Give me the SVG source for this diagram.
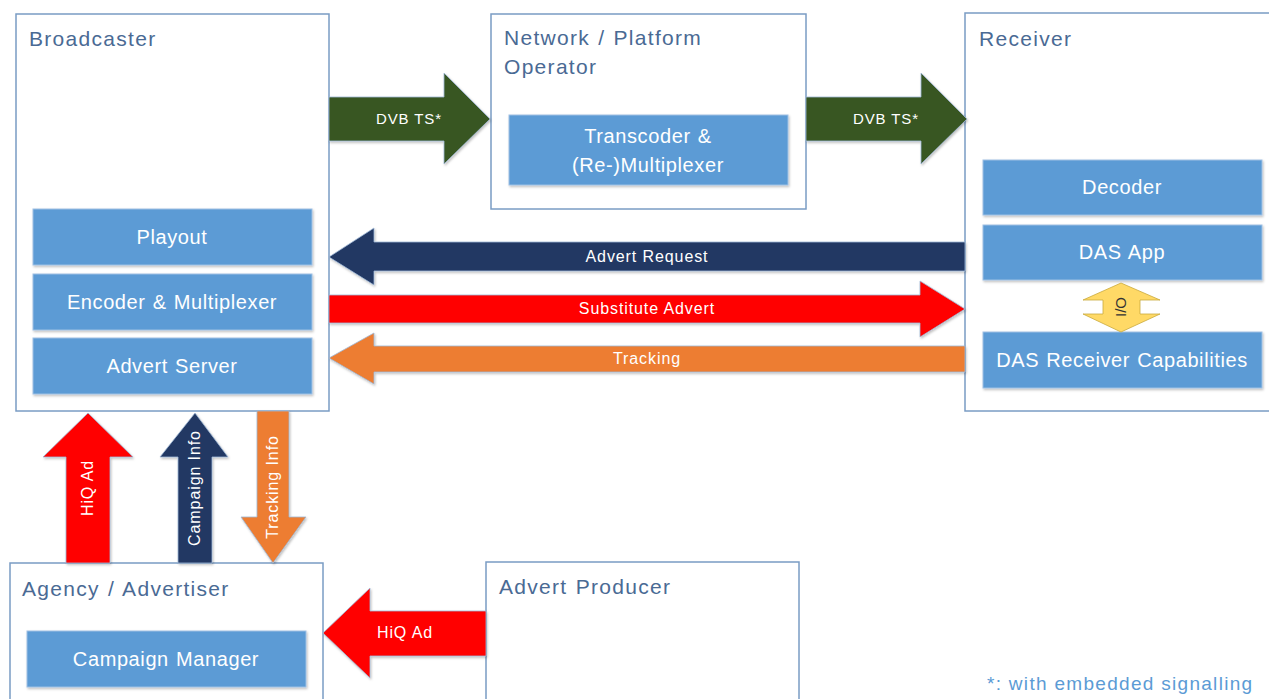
<svg xmlns="http://www.w3.org/2000/svg" width="1269" height="699" viewBox="0 0 1269 699">
<defs>
<filter id="sh" x="-5%" y="-10%" width="110%" height="130%"><feDropShadow dx="1" dy="1.5" stdDeviation="1.2" flood-color="#000" flood-opacity="0.25"/></filter>
</defs>
<style>
.outer{fill:#fff;stroke:#7a9cc4;stroke-width:1.5}
.title{font-family:"Liberation Sans",Arial,sans-serif;font-size:21px;letter-spacing:1.3px;word-spacing:1px;fill:#4a6a94}
.inner{fill:#5b9bd5;stroke:#9fc0e3;stroke-width:1;filter:url(#sh)}
.itxt{font-family:"Liberation Sans",Arial,sans-serif;font-size:20px;letter-spacing:0.6px;word-spacing:1px;fill:#fff;text-anchor:middle}
.atxt{font-family:"Liberation Sans",Arial,sans-serif;font-size:16px;letter-spacing:0.9px;fill:#fff;text-anchor:middle}
.arr{stroke:#9fb8d6;stroke-width:0.8;filter:url(#sh)}
.note{font-family:"Liberation Sans",Arial,sans-serif;font-size:19px;letter-spacing:1.3px;fill:#5b9bd5}
</style>
<rect width="1269" height="699" fill="#fff"/>

<g id="broadcaster">
<rect class="outer" x="16" y="14" width="313" height="397"/>
<text class="title" x="29" y="46">Broadcaster</text>
<rect class="inner" x="33" y="209" width="279" height="56"/>
<text class="itxt" x="172" y="244">Playout</text>
<rect class="inner" x="33" y="274" width="279" height="56"/>
<text class="itxt" x="172" y="309">Encoder &amp; Multiplexer</text>
<rect class="inner" x="33" y="338" width="279" height="56"/>
<text class="itxt" x="172" y="373">Advert Server</text>
</g>

<g id="network-operator">
<rect class="outer" x="491" y="14" width="315" height="195"/>
<text class="title" x="504" y="45">Network / Platform</text>
<text class="title" x="504" y="74">Operator</text>
<rect class="inner" x="509" y="115" width="279" height="70"/>
<text class="itxt" x="648" y="143">Transcoder &amp;</text>
<text class="itxt" x="648" y="172">(Re-)Multiplexer</text>
</g>

<g id="receiver">
<rect class="outer" x="965" y="13" width="320" height="398"/>
<text class="title" x="979" y="46">Receiver</text>
<rect class="inner" x="983" y="160" width="279" height="55"/>
<text class="itxt" x="1122" y="194">Decoder</text>
<rect class="inner" x="983" y="225" width="279" height="55"/>
<text class="itxt" x="1122" y="259">DAS App</text>
<rect class="inner" x="983" y="332" width="279" height="56"/>
<text class="itxt" x="1122" y="367">DAS Receiver Capabilities</text>
</g>

<g id="agency">
<rect class="outer" x="10" y="563" width="313" height="150"/>
<text class="title" x="22" y="596">Agency / Advertiser</text>
<rect class="inner" x="27" y="631" width="279" height="56"/>
<text class="itxt" x="166" y="666">Campaign Manager</text>
</g>

<g id="advert-producer">
<rect class="outer" x="486" y="562" width="313" height="150"/>
<text class="title" x="499" y="594">Advert Producer</text>
</g>

<g id="connectors">
<polygon class="arr" fill="#375623" points="329,97 444,97 444,73 490,119 444,164 444,141 329,141"/>
<text class="atxt" x="409" y="124" style="font-size:15px">DVB TS*</text>
<polygon class="arr" fill="#375623" points="806,97 921,97 921,73 967,119 921,164 921,141 806,141"/>
<text class="atxt" x="886" y="124" style="font-size:15px">DVB TS*</text>

<polygon class="arr" fill="#203864" points="965,242 374,242 374,228 329,257 374,285 374,271 965,271"/>
<text class="atxt" x="647" y="262">Advert Request</text>
<polygon class="arr" fill="#ff0000" points="329,295 920,295 920,281 965,309 920,337 920,323 329,323"/>
<text class="atxt" x="647" y="314">Substitute Advert</text>
<polygon class="arr" fill="#ed7d31" points="965,346 374,346 374,333 329,358 374,384 374,372 965,372"/>
<text class="atxt" x="647" y="364">Tracking</text>

<polygon fill="#ffd966" stroke="#c9a93c" stroke-width="0.8" points="1103,300 1083,300 1121,283 1160,300 1140,300 1140,314 1160,314 1121,332 1083,314 1103,314"/>
<text x="1121" y="307" transform="rotate(-90 1121 307)" dy="5" style="font-family:'Liberation Sans',Arial,sans-serif;font-size:15px;fill:#333;text-anchor:middle">I/O</text>

<polygon class="arr" fill="#ff0000" points="66,563 66,457 43,457 88,413 133,457 110,457 110,563"/>
<text class="atxt" x="88" y="488" transform="rotate(-90 88 488)" dy="5">HiQ Ad</text>
<polygon class="arr" fill="#203864" points="178,563 178,457 160,457 195,413 228,457 212,457 212,563"/>
<text class="atxt" x="195" y="488" transform="rotate(-90 195 488)" dy="5">Campaign Info</text>
<polygon class="arr" fill="#ed7d31" points="257,411 289,411 289,517 306,517 273,563 241,517 257,517"/>
<text class="atxt" x="273" y="487" transform="rotate(-90 273 487)" dy="5">Tracking Info</text>

<polygon class="arr" fill="#ff0000" points="486,611 370,611 370,588 323,633 370,678 370,656 486,656"/>
<text class="atxt" x="405" y="638">HiQ Ad</text>
</g>

<text class="note" x="987" y="690">*: with embedded signalling</text>
</svg>
